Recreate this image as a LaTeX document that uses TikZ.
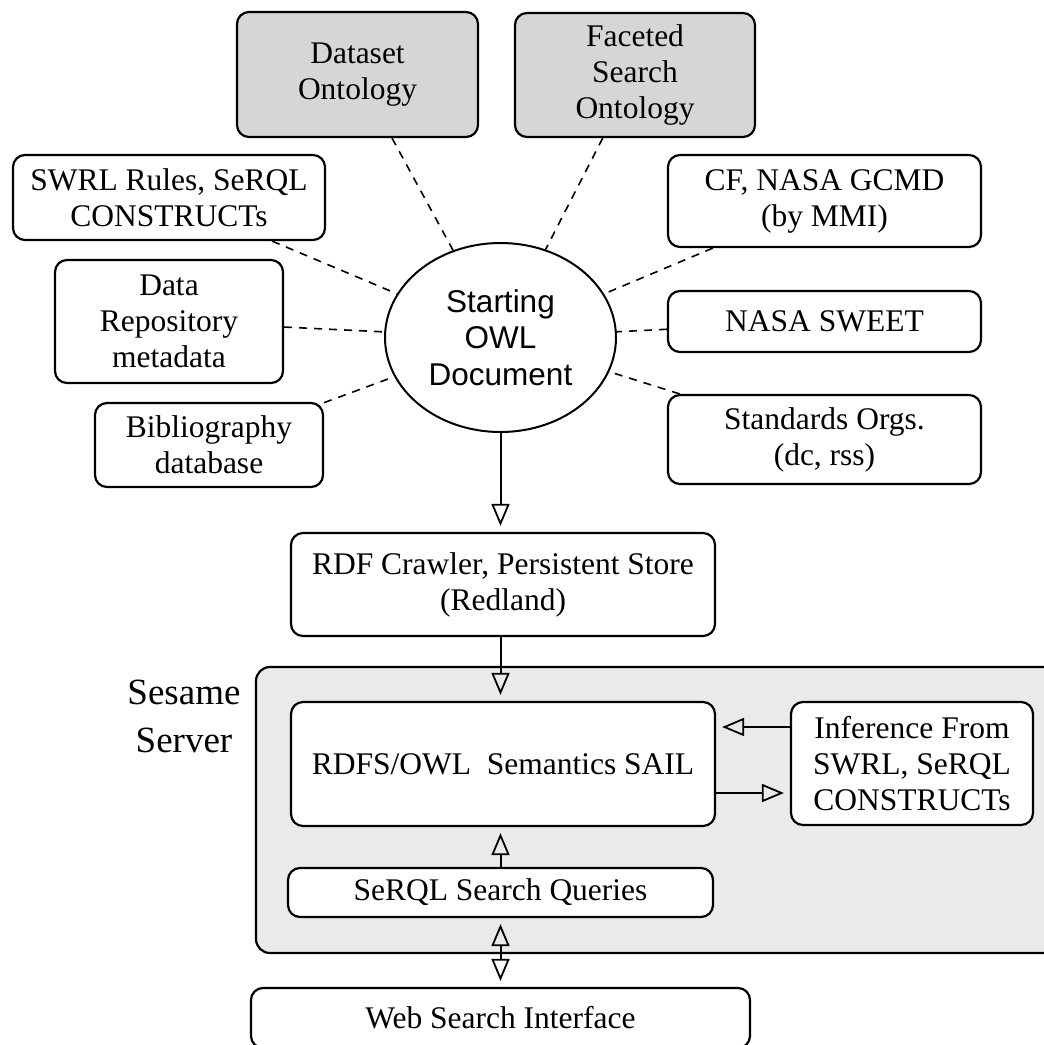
\documentclass[tikz,border=0pt]{standalone}
\usepackage{fontspec}
\setmainfont{Liberation Serif}
\newfontfamily\sansf{Liberation Sans}
\usetikzlibrary{arrows.meta,shapes.geometric}
\definecolor{ontofill}{HTML}{D6D6D6}
\definecolor{serverfill}{HTML}{EAEAEA}
\tikzset{
  box/.style={draw, line width=2.2pt, rounded corners=12pt, fill=white, align=center,
    inner sep=0pt, font=\fontsize{31.5}{36}\selectfont},
  gbox/.style={box, fill=ontofill},
  con/.style={dash pattern=on 8pt off 7pt, line width=1.6pt},
  arr/.style={-{Triangle[open,length=22pt,width=18pt,line width=1.8pt]}, line width=2pt, shorten >=6pt},
  darr/.style={{Triangle[open,length=22pt,width=18pt,line width=1.8pt]}-{Triangle[open,length=22pt,width=18pt,line width=1.8pt]},
    line width=2pt, shorten >=6pt, shorten <=6pt}
}
\begin{document}
\begin{tikzpicture}[x=1pt,y=-1pt]
\clip (0,0) rectangle (1044,1045);
\fill[white] (0,0) rectangle (1044,1045);

% Sesame server region
\draw[line width=2.2pt, rounded corners=14pt, fill=serverfill] (256,667) rectangle (1080,953);
\node[align=center, inner sep=0pt, font=\fontsize{37}{48}\selectfont] (sesame) at (184,716) {Sesame\\Server};

% top nodes
\node[gbox, minimum width=241pt, minimum height=125pt] (dataset) at (357.5,74.5) {Dataset\\Ontology};
\node[gbox, minimum width=240pt, minimum height=124pt] (faceted) at (635,75) {Faceted\\Search\\Ontology};
\node[box, minimum width=312pt, minimum height=85pt] (swrl) at (169,197.5) {SWRL Rules, SeRQL\\CONSTRUCTs};
\node[box, minimum width=228pt, minimum height=123pt] (repo) at (169,321.5) {Data\\Repository\\metadata};
\node[box, minimum width=228pt, minimum height=84pt] (biblio) at (209,445) {Bibliography\\database};
\node[box, minimum width=313pt, minimum height=92pt] (cf) at (824.5,201) {CF, NASA GCMD\\(by MMI)};
\node[box, minimum width=313pt, minimum height=61pt] (sweet) at (824.5,321.5) {NASA SWEET};
\node[box, minimum width=313pt, minimum height=89pt] (stds) at (824.5,439.5) {Standards Orgs.\\(dc, rss)};
\node[draw, ellipse, line width=2pt, fill=white, minimum width=231pt, minimum height=189pt,
  inner sep=0pt, align=center, font=\sansf\fontsize{31.5}{36.5}\selectfont] (owl) at (500.5,337.5) {Starting\\OWL\\Document};

% dashed connectors
\foreach \n in {dataset,faceted,swrl,repo,biblio,cf,sweet,stds}
  \draw[con] (\n) -- (owl);

% lower nodes
\node[box, minimum width=424pt, minimum height=103pt] (rdf) at (503,584.5) {RDF Crawler, Persistent Store\\(Redland)};
\node[box, minimum width=424pt, minimum height=124pt] (sail) at (503,764) {RDFS/OWL\ \ Semantics SAIL};
\node[box, minimum width=242pt, minimum height=123pt] (inf) at (912,763.5) {Inference From\\SWRL, SeRQL\\CONSTRUCTs};
\node[box, minimum width=425pt, minimum height=49pt] (serql) at (500.5,892.5) {SeRQL Search Queries};
\node[box, minimum width=499pt, minimum height=60pt] (web) at (500.5,1018) {Web Search Interface};

% arrows
\draw[arr] (owl.south) -- (owl.south |- rdf.north);
\draw[arr] (owl.south |- rdf.south) -- (owl.south |- sail.north);
\draw[arr] (serql.north) -- (serql.north |- sail.south);
\draw[darr] (serql.south) -- (serql.south |- web.north);
\draw[arr] ([yshift=36.5pt]inf.west) coordinate (a1) -- (a1 -| sail.east);
\draw[arr] ([yshift=-29pt]sail.east) coordinate (a2) -- (a2 -| inf.west);
\end{tikzpicture}
\end{document}
